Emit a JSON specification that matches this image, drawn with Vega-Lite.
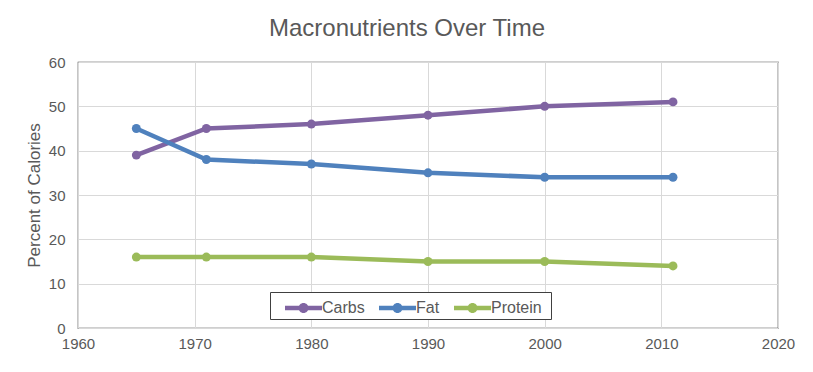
{
  "$schema": "https://vega.github.io/schema/vega-lite/v6.json",
  "width": 700,
  "height": 266,
  "autosize": {"type": "none"},
  "padding": {"left": 78, "top": 62, "right": 35, "bottom": 44},
  "background": "white",
  "title": {
    "text": "Macronutrients Over Time",
    "font": "Liberation Sans",
    "fontSize": 24,
    "fontWeight": "normal",
    "color": "#595959",
    "offset": 14,
    "dx": -21
  },
  "config": {
    "view": {"stroke": "#404040", "strokeWidth": 1.2},
    "axis": {
      "labelFont": "Liberation Sans",
      "labelFontSize": 15,
      "labelColor": "#595959",
      "titleFont": "Liberation Sans",
      "titleColor": "#595959",
      "titleFontWeight": "normal",
      "gridColor": "#d9d9d9",
      "gridWidth": 1,
      "domain": false,
      "ticks": false
    }
  },
  "data": {
    "values": [
      {"year": 1965, "series": "Carbs", "value": 39},
      {"year": 1971, "series": "Carbs", "value": 45},
      {"year": 1980, "series": "Carbs", "value": 46},
      {"year": 1990, "series": "Carbs", "value": 48},
      {"year": 2000, "series": "Carbs", "value": 50},
      {"year": 2011, "series": "Carbs", "value": 51},
      {"year": 1965, "series": "Fat", "value": 45},
      {"year": 1971, "series": "Fat", "value": 38},
      {"year": 1980, "series": "Fat", "value": 37},
      {"year": 1990, "series": "Fat", "value": 35},
      {"year": 2000, "series": "Fat", "value": 34},
      {"year": 2011, "series": "Fat", "value": 34},
      {"year": 1965, "series": "Protein", "value": 16},
      {"year": 1971, "series": "Protein", "value": 16},
      {"year": 1980, "series": "Protein", "value": 16},
      {"year": 1990, "series": "Protein", "value": 15},
      {"year": 2000, "series": "Protein", "value": 15},
      {"year": 2011, "series": "Protein", "value": 14}
    ]
  },
  "encoding": {
    "x": {
      "field": "year",
      "type": "quantitative",
      "scale": {"domain": [1960, 2020], "nice": false, "zero": false},
      "axis": {"values": [1960, 1970, 1980, 1990, 2000, 2010, 2020], "format": "d", "title": null, "labelPadding": 8, "labelFlush": false}
    },
    "y": {
      "field": "value",
      "type": "quantitative",
      "scale": {"domain": [0, 60], "nice": false},
      "axis": {"values": [0, 10, 20, 30, 40, 50, 60], "title": "Percent of Calories", "titleFontSize": 17, "titlePadding": 5, "labelPadding": 13}
    },
    "color": {
      "field": "series",
      "type": "nominal",
      "scale": {"domain": ["Carbs", "Fat", "Protein"], "range": ["#8064A2", "#4F81BD", "#9BBB59"]},
      "legend": {
        "title": " ",
        "titleOrient": "right",
        "titlePadding": 6,
        "orient": "none",
        "legendX": 192,
        "legendY": 230,
        "direction": "horizontal",
        "strokeColor": "#404040",
        "padding": 3,
        "fillColor": "white",
        "labelFont": "Liberation Sans",
        "labelFontSize": 16,
        "labelColor": "#595959",
        "labelOffset": 23,
        "columnPadding": 2,
        "symbolType": "M-0.077,-0.173 L2.77,-0.173 L2.77,0.173 L-0.077,0.173 Z M0.965,0 A0.385,0.385 0 1,1 1.735,0 A0.385,0.385 0 1,1 0.965,0 Z",
        "symbolSize": 676,
        "symbolStrokeWidth": 0,
        "symbolOpacity": 1
      }
    }
  },
  "layer": [
    {"mark": {"type": "line", "strokeWidth": 4.5}},
    {"mark": {"type": "point", "filled": true, "size": 80, "opacity": 1}}
  ]
}
